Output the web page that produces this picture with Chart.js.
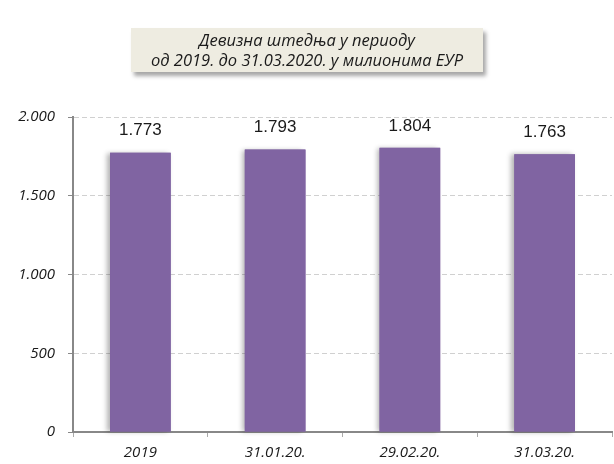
<!DOCTYPE html>
<html>
<head>
<meta charset="utf-8">
<script src="https://cdn.jsdelivr.net/npm/chart.js@4/dist/chart.umd.min.js"></script>
<style>
  body { margin: 0; background: #fff; }
  #wrap { position: relative; width: 614px; height: 464px; }
  #title {
    position: absolute; left: 131px; top: 28px; width: 352px; height: 44px;
    background: #eeece1; box-shadow: 3px 4px 4px rgba(0,0,0,0.35);
    font-family: "Open Sans", sans-serif; font-style: italic; font-size: 16.5px;
    color: #1a1a1a; text-align: center; line-height: 20px; padding-top: 2px; box-sizing: border-box;
    white-space: nowrap;
  }
</style>
</head>
<body>
<div id="wrap">
  <canvas id="chart" width="614" height="464"></canvas>
  <div id="title">Девизна штедња у периоду<br>од 2019. до 31.03.2020. у милионима ЕУР</div>
</div>
<script>
// подаци
const categories = ['2019', '31.01.20.', '29.02.20.', '31.03.20.'];
const values = [1773, 1793, 1804, 1763];
const yTicks = [0, 500, 1000, 1500, 2000];

const FONT = '"Liberation Sans", Arial, sans-serif';
const IFONT = '"Open Sans", sans-serif';

function fmt(n) {
  return String(n).replace(/\B(?=(\d{3})+(?!\d))/g, '.');
}

const labelsPlugin = {
  id: 'barLabels',
  beforeDatasetsDraw(chart) {
    // сенка лево од стубова
    const ctx = chart.ctx;
    const meta = chart.getDatasetMeta(0);
    ctx.save();
    ctx.shadowColor = 'rgba(0,0,0,0.3)';
    ctx.shadowBlur = 5;
    ctx.shadowOffsetX = -3;
    ctx.fillStyle = '#8064a2';
    meta.data.forEach(bar => {
      const w = bar.width;
      ctx.fillRect(bar.x - w / 2, bar.y, w, bar.base - bar.y);
    });
    ctx.restore();
  },
  afterDatasetsDraw(chart) {
    const ctx = chart.ctx;
    const meta = chart.getDatasetMeta(0);
    ctx.save();
    ctx.font = '17px ' + FONT;
    ctx.fillStyle = '#1a1a1a';
    ctx.textAlign = 'center';
    ctx.textBaseline = 'middle';
    meta.data.forEach((bar, i) => {
      ctx.fillText(fmt(values[i]), bar.x, bar.y - 22);
    });
    ctx.restore();
  }
};

new Chart(document.getElementById('chart'), {
  type: 'bar',
  data: {
    labels: categories,
    datasets: [{
      data: values,
      backgroundColor: '#8064a2',
      categoryPercentage: 1,
      barPercentage: 0.45
    }]
  },
  options: {
    responsive: false,
    animation: false,
    layout: { padding: { top: 117, right: 2, bottom: 0, left: 0 } },
    plugins: { legend: { display: false }, tooltip: { enabled: false } },
    scales: {
      y: {
        min: 0, max: 2000,
        afterFit(s) { s.width = 73; },
        afterBuildTicks(s) { s.ticks = yTicks.map(v => ({ value: v })); },
        ticks: {
          callback: v => fmt(v),
          font: { family: IFONT, size: 15, style: 'italic' },
          color: '#1a1a1a',
          padding: 13
        },
        grid: {
          color: '#d0d0d0',
          tickColor: '#888',
          tickLength: 5
        },
        border: { color: '#888', width: 2, dash: [5, 3] }
      },
      x: {
        afterFit(s) { s.height = 32; },
        ticks: {
          font: { family: IFONT, size: 15, style: 'italic' },
          color: '#1a1a1a',
          padding: 7
        },
        grid: {
          offset: true,
          drawOnChartArea: false,
          tickColor: '#aaa',
          tickLength: 5
        },
        border: { color: '#888', width: 2 }
      }
    }
  },
  plugins: [labelsPlugin]
});
</script>
</body>
</html>
